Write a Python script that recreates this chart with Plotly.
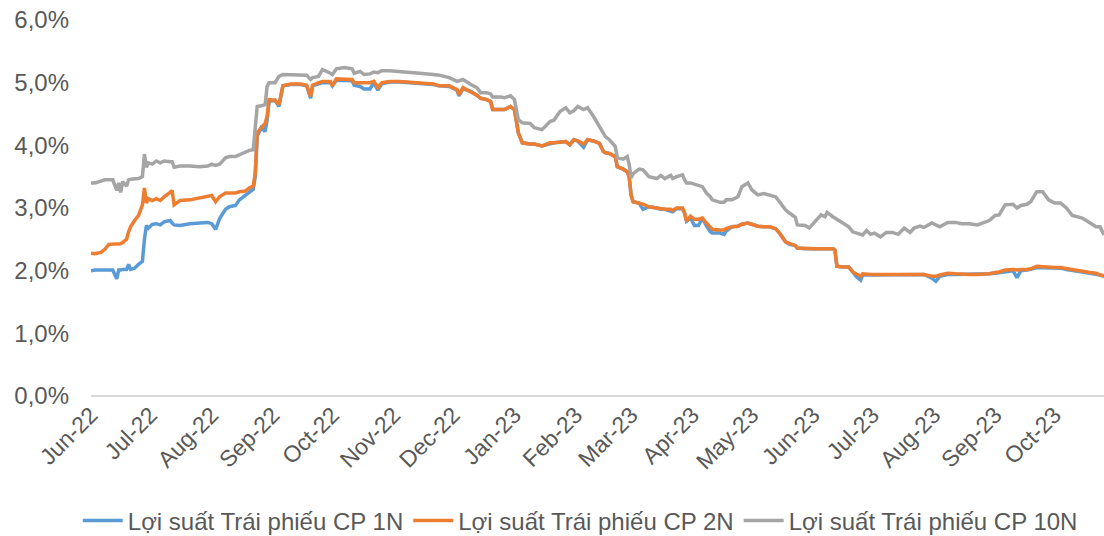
import plotly.graph_objects as go

dates = [
    "2022-06-01", "2022-06-03", "2022-06-06", "2022-06-08", "2022-06-10", "2022-06-12", "2022-06-14", "2022-06-15",
    "2022-06-16", "2022-06-17", "2022-06-19", "2022-06-20", "2022-06-21", "2022-06-23", "2022-06-25", "2022-06-27",
    "2022-06-28", "2022-06-29", "2022-06-30", "2022-07-02", "2022-07-04", "2022-07-06", "2022-07-08", "2022-07-11",
    "2022-07-12", "2022-07-13", "2022-07-16", "2022-07-21", "2022-07-26", "2022-07-30", "2022-08-01", "2022-08-03",
    "2022-08-05", "2022-08-08", "2022-08-10", "2022-08-13", "2022-08-15", "2022-08-18", "2022-08-20", "2022-08-22",
    "2022-08-23", "2022-08-24", "2022-08-26", "2022-08-28", "2022-08-29", "2022-08-30", "2022-09-02", "2022-09-04",
    "2022-09-06", "2022-09-10", "2022-09-15", "2022-09-18", "2022-09-20", "2022-09-21", "2022-09-24", "2022-09-26",
    "2022-09-30", "2022-10-01", "2022-10-03", "2022-10-07", "2022-10-11", "2022-10-12", "2022-10-15", "2022-10-17",
    "2022-10-20", "2022-10-22", "2022-10-24", "2022-10-26", "2022-10-30", "2022-11-04", "2022-11-09", "2022-11-14",
    "2022-11-21", "2022-11-24", "2022-11-29", "2022-12-03", "2022-12-04", "2022-12-06", "2022-12-10", "2022-12-13",
    "2022-12-15", "2022-12-18", "2022-12-20", "2022-12-21", "2022-12-25", "2022-12-27", "2022-12-30", "2023-01-01",
    "2023-01-03", "2023-01-05", "2023-01-09", "2023-01-11", "2023-01-15", "2023-01-19", "2023-01-21", "2023-01-24",
    "2023-01-27", "2023-01-29", "2023-01-31", "2023-02-02", "2023-02-05", "2023-02-07", "2023-02-10", "2023-02-13",
    "2023-02-15", "2023-02-16", "2023-02-18", "2023-02-21", "2023-02-22", "2023-02-25", "2023-02-27", "2023-02-28",
    "2023-03-01", "2023-03-02", "2023-03-05", "2023-03-07", "2023-03-10", "2023-03-14", "2023-03-16", "2023-03-18",
    "2023-03-21", "2023-03-22", "2023-03-24", "2023-03-27", "2023-03-28", "2023-03-29", "2023-03-31", "2023-04-02",
    "2023-04-04", "2023-04-06", "2023-04-08", "2023-04-10", "2023-04-11", "2023-04-15", "2023-04-17", "2023-04-18",
    "2023-04-21", "2023-04-24", "2023-04-26", "2023-04-29", "2023-05-01", "2023-05-04", "2023-05-07", "2023-05-10",
    "2023-05-13", "2023-05-15", "2023-05-18", "2023-05-20", "2023-05-23", "2023-05-24", "2023-05-28", "2023-05-30",
    "2023-06-02", "2023-06-05", "2023-06-07", "2023-06-08", "2023-06-11", "2023-06-12", "2023-06-13", "2023-06-16",
    "2023-06-19", "2023-06-21", "2023-06-23", "2023-06-25", "2023-06-26", "2023-06-28", "2023-06-30", "2023-07-02",
    "2023-07-05", "2023-07-08", "2023-07-11", "2023-07-14", "2023-07-17", "2023-07-20", "2023-07-22", "2023-07-25",
    "2023-07-27", "2023-07-31", "2023-08-02", "2023-08-04", "2023-08-08", "2023-08-12", "2023-08-15", "2023-08-19",
    "2023-08-23", "2023-08-27", "2023-08-29", "2023-09-01", "2023-09-03", "2023-09-06", "2023-09-10", "2023-09-12",
    "2023-09-14", "2023-09-17", "2023-09-19", "2023-09-22", "2023-09-25", "2023-09-28", "2023-10-01", "2023-10-04",
    "2023-10-07", "2023-10-10", "2023-10-15", "2023-10-19", "2023-10-22", "2023-10-24", "2023-10-26",
]

yield_1n = [
    2.00, 2.01, 2.01, 2.01, 2.01, 2.01, 1.87, 2.01, 2.01, 2.02, 2.02, 2.10, 2.02, 2.04, 2.10, 2.15,
    2.50, 2.72, 2.68, 2.74, 2.75, 2.73, 2.78, 2.80, 2.76, 2.73, 2.72, 2.75, 2.76, 2.77, 2.75, 2.66,
    2.83, 2.98, 3.02, 3.04, 3.13, 3.20, 3.26, 3.30, 3.50, 4.15, 4.28, 4.22, 4.40, 4.70, 4.72, 4.62,
    4.95, 4.97, 4.97, 4.95, 4.75, 4.95, 4.98, 5.00, 5.00, 4.95, 5.04, 5.04, 5.03, 4.96, 4.94, 4.90,
    4.90, 5.00, 4.88, 4.98, 5.01, 5.01, 5.00, 4.99, 4.97, 4.95, 4.94, 4.88, 4.79, 4.90, 4.86, 4.80,
    4.75, 4.73, 4.70, 4.57, 4.57, 4.57, 4.62, 4.57, 4.20, 4.04, 4.02, 4.02, 3.99, 4.03, 4.04, 4.05,
    4.06, 4.01, 4.09, 4.07, 3.97, 4.09, 4.07, 4.03, 3.90, 3.88, 3.87, 3.82, 3.66, 3.62, 3.58, 3.50,
    3.20, 3.10, 3.08, 2.98, 3.02, 3.00, 2.98, 2.98, 2.96, 2.94, 2.99, 2.99, 2.92, 2.79, 2.84, 2.72,
    2.72, 2.84, 2.72, 2.62, 2.60, 2.60, 2.58, 2.63, 2.70, 2.71, 2.74, 2.76, 2.74, 2.71, 2.70, 2.70,
    2.67, 2.60, 2.46, 2.42, 2.40, 2.36, 2.35, 2.35, 2.35, 2.35, 2.35, 2.35, 2.35, 2.33, 2.07, 2.06,
    2.06, 1.98, 1.90, 1.85, 1.93, 1.93, 1.93, 1.93, 1.93, 1.93, 1.94, 1.94, 1.94, 1.94, 1.94, 1.94,
    1.94, 1.88, 1.83, 1.91, 1.94, 1.94, 1.94, 1.94, 1.94, 1.94, 1.95, 1.96, 1.97, 1.99, 2.00, 1.89,
    2.00, 2.01, 2.02, 2.05, 2.05, 2.04, 2.04, 2.04, 2.02, 2.00, 1.98, 1.96, 1.95, 1.93, 1.91,
]

yield_2n = [
    2.28, 2.27, 2.29, 2.34, 2.42, 2.42, 2.42, 2.42, 2.43, 2.45, 2.50, 2.62, 2.70, 2.80, 2.88, 3.05,
    3.32, 3.08, 3.15, 3.12, 3.15, 3.12, 3.18, 3.25, 3.28, 3.05, 3.12, 3.13, 3.16, 3.18, 3.20, 3.10,
    3.18, 3.24, 3.24, 3.24, 3.26, 3.27, 3.32, 3.35, 3.55, 4.20, 4.28, 4.35, 4.46, 4.73, 4.72, 4.65,
    4.95, 4.98, 4.98, 4.96, 4.78, 4.96, 5.00, 5.02, 5.02, 4.95, 5.06, 5.06, 5.05, 5.00, 5.00, 5.00,
    5.00, 5.02, 4.92, 5.00, 5.02, 5.02, 5.01, 5.00, 4.98, 4.95, 4.95, 4.89, 4.81, 4.92, 4.86, 4.80,
    4.75, 4.73, 4.70, 4.57, 4.57, 4.57, 4.62, 4.57, 4.20, 4.04, 4.02, 4.02, 3.99, 4.04, 4.04, 4.05,
    4.06, 4.01, 4.09, 4.07, 4.02, 4.09, 4.07, 4.03, 3.90, 3.88, 3.87, 3.82, 3.66, 3.62, 3.58, 3.50,
    3.20, 3.10, 3.08, 3.06, 3.02, 3.00, 2.99, 2.98, 2.98, 2.96, 3.00, 3.00, 2.92, 2.79, 2.87, 2.82,
    2.82, 2.84, 2.76, 2.68, 2.66, 2.65, 2.65, 2.67, 2.70, 2.71, 2.74, 2.76, 2.74, 2.71, 2.70, 2.70,
    2.67, 2.60, 2.46, 2.43, 2.40, 2.36, 2.35, 2.35, 2.35, 2.35, 2.35, 2.35, 2.35, 2.33, 2.07, 2.06,
    2.06, 1.98, 1.94, 1.91, 1.95, 1.94, 1.94, 1.94, 1.94, 1.94, 1.94, 1.94, 1.95, 1.95, 1.94, 1.94,
    1.94, 1.91, 1.91, 1.93, 1.96, 1.95, 1.94, 1.94, 1.94, 1.94, 1.95, 1.97, 1.98, 2.01, 2.02, 2.01,
    2.02, 2.02, 2.03, 2.07, 2.06, 2.05, 2.05, 2.05, 2.03, 2.01, 1.99, 1.97, 1.96, 1.93, 1.92,
]

yield_10n = [
    3.40, 3.40, 3.43, 3.45, 3.45, 3.45, 3.28, 3.40, 3.25, 3.42, 3.35, 3.45, 3.46, 3.46, 3.47, 3.50,
    3.86, 3.65, 3.72, 3.70, 3.75, 3.72, 3.75, 3.74, 3.74, 3.65, 3.67, 3.67, 3.66, 3.67, 3.70, 3.68,
    3.70, 3.80, 3.82, 3.82, 3.85, 3.90, 3.92, 3.93, 4.30, 4.62, 4.63, 4.65, 4.94, 5.00, 5.00, 5.10,
    5.13, 5.13, 5.13, 5.12, 5.05, 5.08, 5.10, 5.21, 5.15, 5.13, 5.22, 5.24, 5.22, 5.15, 5.18, 5.13,
    5.14, 5.17, 5.16, 5.19, 5.19, 5.18, 5.16, 5.15, 5.13, 5.12, 5.08, 5.02, 5.03, 5.05, 4.97, 4.92,
    4.84, 4.84, 4.82, 4.77, 4.77, 4.76, 4.79, 4.73, 4.41, 4.36, 4.35, 4.28, 4.25, 4.38, 4.40, 4.54,
    4.60, 4.52, 4.55, 4.62, 4.57, 4.60, 4.46, 4.30, 4.20, 4.14, 4.09, 3.98, 3.80, 3.78, 3.82, 3.70,
    3.48, 3.55, 3.62, 3.61, 3.50, 3.47, 3.52, 3.47, 3.52, 3.47, 3.50, 3.53, 3.45, 3.40, 3.40, 3.38,
    3.36, 3.34, 3.24, 3.18, 3.13, 3.09, 3.09, 3.13, 3.13, 3.18, 3.34, 3.40, 3.29, 3.21, 3.23, 3.21,
    3.18, 3.10, 2.97, 2.92, 2.85, 2.73, 2.72, 2.68, 2.78, 2.89, 2.86, 2.93, 2.86, 2.84, 2.82, 2.76,
    2.70, 2.62, 2.60, 2.58, 2.57, 2.64, 2.58, 2.60, 2.54, 2.61, 2.61, 2.58, 2.68, 2.61, 2.68, 2.71,
    2.69, 2.76, 2.73, 2.70, 2.77, 2.77, 2.75, 2.75, 2.73, 2.77, 2.80, 2.88, 2.89, 3.05, 3.06, 3.00,
    3.04, 3.06, 3.10, 3.26, 3.26, 3.13, 3.08, 3.08, 3.00, 2.88, 2.84, 2.76, 2.70, 2.70, 2.57,
]

series_names = ["Lợi suất Trái phiếu CP 1N", "Lợi suất Trái phiếu CP 2N", "Lợi suất Trái phiếu CP 10N"]
series_colors = ["#5B9BD5", "#ED7D31", "#A5A5A5"]
y_ticks = [0, 1, 2, 3, 4, 5, 6]
y_tick_labels = ["0,0%", "1,0%", "2,0%", "3,0%", "4,0%", "5,0%", "6,0%"]

fig = go.Figure()
for name, vals, col in zip(series_names, [yield_1n, yield_2n, yield_10n], series_colors):
    fig.add_trace(go.Scatter(x=dates, y=vals, mode="lines", name=name,
                             line=dict(color=col, width=3.5)))

font_family = "Liberation Sans, Arial, sans-serif"
fig.update_layout(
    width=1104, height=536,
    margin=dict(l=91, r=0, t=20, b=140, autoexpand=False),
    paper_bgcolor="white", plot_bgcolor="white",
    font=dict(family=font_family, size=24, color="#595959"),
    showlegend=True,
    legend=dict(orientation="h", x=0.483, xanchor="center", y=-0.332, yanchor="middle",
                font=dict(size=24, color="#595959"), itemwidth=40, tracegroupgap=0,
                bgcolor="rgba(0,0,0,0)"),
    xaxis=dict(
        type="date", automargin=False,
        range=["2022-06-01", "2023-10-26"],
        tick0="2022-06-01", dtick="M1", tickformat="%b-%y",
        tickangle=-45, showgrid=False, zeroline=False,
        showline=False, ticks="",
        tickfont=dict(size=23, color="#595959"),
    ),
    yaxis=dict(
        range=[0, 6], automargin=False, tickvals=y_ticks, ticktext=y_tick_labels,
        showgrid=False, zeroline=True, zerolinecolor="#D9D9D9", zerolinewidth=2,
        showline=False, ticks="", ticklabelstandoff=21,
        tickfont=dict(size=24, color="#595959"),
    ),
)

fig.write_html("out.html", config={"displayModeBar": False},
               post_script="document.body.style.margin='0';document.body.style.overflow='hidden';")
